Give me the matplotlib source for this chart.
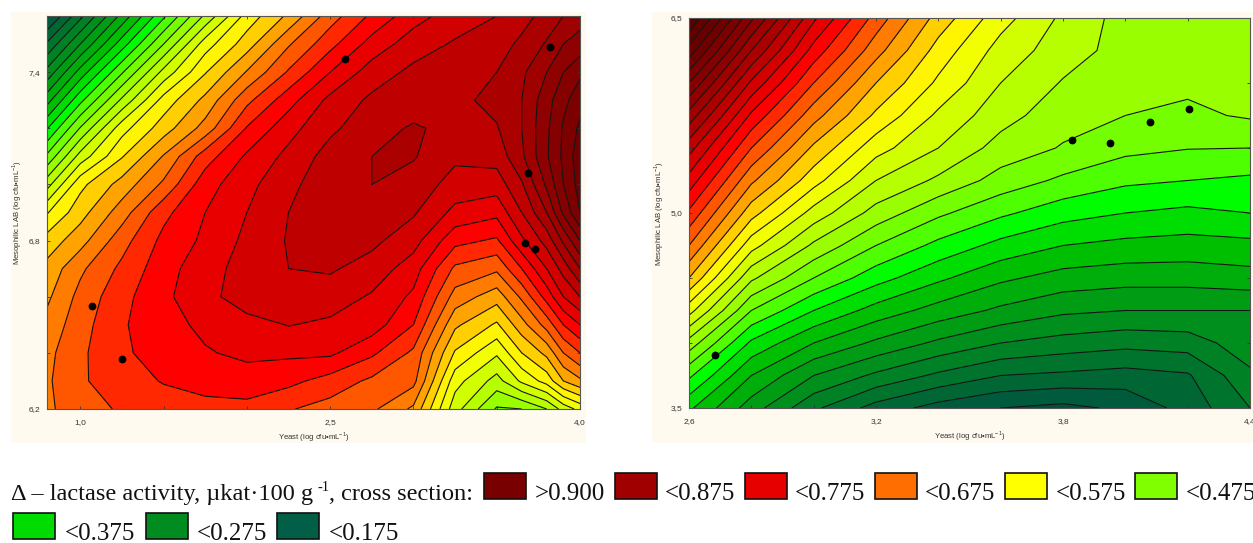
import numpy as np
import matplotlib
matplotlib.use("Agg")
import matplotlib.pyplot as plt
from matplotlib.colors import LinearSegmentedColormap
from matplotlib.patches import Rectangle
from matplotlib.ticker import MultipleLocator
from matplotlib.transforms import Bbox

W, H = 1253, 543

# left panel, rows go from the top of the plot down
x1 = [0.8, 1.0, 1.25, 1.5, 1.75, 2.0, 2.25, 2.5, 2.75, 3.0, 3.25, 3.5, 3.65, 3.8, 3.9, 4.0]
y1 = [7.6, 7.5, 7.4, 7.3, 7.2, 7.1, 7.0, 6.9, 6.8, 6.7, 6.6, 6.5, 6.4, 6.3, 6.2]
z1 = [
    [.170, .243, .333, .420, .505, .585, .630, .688, .730, .765, .787, .800, .816, .834, .850, .865],
    [.229, .300, .388, .475, .563, .613, .672, .717, .760, .788, .803, .815, .830, .853, .875, .885],
    [.283, .360, .447, .533, .598, .652, .703, .750, .787, .806, .812, .825, .845, .875, .900, .920],
    [.340, .418, .505, .585, .632, .693, .740, .782, .805, .812, .818, .833, .850, .890, .918, .940],
    [.398, .477, .565, .613, .660, .727, .766, .795, .815, .828, .818, .823, .850, .895, .928, .955],
    [.455, .535, .598, .652, .713, .754, .782, .810, .825, .827, .805, .810, .845, .897, .930, .965],
    [.515, .593, .635, .680, .740, .767, .795, .812, .825, .815, .790, .787, .822, .880, .925, .960],
    [.573, .615, .663, .718, .750, .775, .800, .810, .818, .803, .768, .757, .800, .850, .905, .950],
    [.610, .640, .690, .732, .755, .781, .802, .810, .806, .785, .733, .721, .770, .810, .855, .900],
    [.633, .670, .706, .740, .765, .785, .800, .803, .790, .762, .695, .680, .725, .775, .810, .850],
    [.645, .683, .717, .745, .766, .790, .795, .788, .772, .745, .665, .636, .680, .735, .775, .800],
    [.658, .690, .722, .742, .755, .765, .776, .770, .763, .725, .630, .596, .640, .685, .725, .750],
    [.668, .695, .722, .733, .748, .755, .755, .755, .730, .695, .597, .554, .600, .632, .675, .700],
    [.671, .697, .712, .727, .737, .740, .732, .715, .695, .683, .560, .515, .555, .585, .625, .645],
    [.670, .690, .703, .710, .715, .717, .702, .690, .680, .645, .535, .472, .475, .500, .535, .558],
]
pts1_x = [2.59, 3.82, 3.685, 3.67, 3.73, 1.07, 1.25]
pts1_y = [7.446, 7.489, 7.04, 6.79, 6.77, 6.567, 6.379]

# right panel
x2 = [2.6, 2.8, 3.0, 3.2, 3.4, 3.6, 3.8, 4.0, 4.2, 4.4]
y2 = [6.5, 6.25, 6.0, 5.75, 5.5, 5.25, 5.0, 4.75, 4.5, 4.25, 4.0, 3.75, 3.5]
z2 = [
    [1.05, .905, .780, .690, .615, .560, .520, .490, .480, .478],
    [.990, .850, .740, .660, .590, .540, .512, .490, .480, .478],
    [.925, .795, .700, .625, .570, .525, .498, .485, .480, .478],
    [.865, .745, .660, .595, .545, .510, .485, .475, .470, .478],
    [.810, .700, .620, .560, .525, .490, .473, .457, .451, .450],
    [.765, .655, .585, .525, .495, .465, .445, .430, .425, .420],
    [.720, .610, .540, .490, .455, .430, .410, .400, .394, .400],
    [.675, .560, .495, .450, .418, .392, .375, .368, .365, .368],
    [.625, .505, .450, .410, .380, .355, .340, .335, .335, .340],
    [.560, .450, .400, .365, .340, .320, .305, .300, .300, .300],
    [.490, .395, .350, .320, .295, .275, .265, .258, .262, .290],
    [.430, .350, .300, .270, .245, .225, .220, .215, .222, .270],
    [.380, .312, .255, .215, .190, .175, .168, .180, .210, .250],
]
pts2_x = [2.683, 3.829, 3.951, 4.079, 4.204]
pts2_y = [3.908, 5.562, 5.538, 5.70, 5.80]

legend_labels = [">0.900", "<0.875", "<0.775", "<0.675", "<0.575", "<0.475", "<0.375", "<0.275", "<0.175"]
legend_colors = ["#780000", "#a00000", "#e60000", "#ff6e00", "#ffff00", "#80ff00", "#00dc00", "#008c1e", "#005f46"]

levels = np.arange(0.15, 1.1, 0.025)
anchors = [
    (.150, "#004a3c"), (.185, "#005a3c"), (.285, "#008c1e"), (.3625, "#00c000"), (.4125, "#00ff00"),
    (.4375, "#50ff00"), (.4875, "#99ff00"), (.5375, "#d0ff00"), (.5625, "#f0ff00"), (.5875, "#fff800"),
    (.6125, "#ffcc00"), (.6375, "#ffa000"), (.6625, "#ff7a00"), (.6875, "#ff5500"), (.7125, "#ff2800"),
    (.7375, "#ff0000"), (.7625, "#e80000"), (.7875, "#d40000"), (.8125, "#c00000"), (.8375, "#ac0000"),
    (.8625, "#a00000"), (.8875, "#900000"), (.9125, "#860000"), (.9375, "#7c0000"), (.9625, "#700000"),
    (1.075, "#500000"),
]
lo, hi = anchors[0][0], anchors[-1][0]
cmap = LinearSegmentedColormap.from_list("lact", [((v - lo) / (hi - lo), c) for v, c in anchors])
band_colors = [cmap((0.5 * (a + b) - lo) / (hi - lo)) for a, b in zip(levels[:-1], levels[1:])]

plt.rcParams["font.family"] = ["Liberation Sans", "DejaVu Sans"]
plt.rcParams["mathtext.fontset"] = "custom"
plt.rcParams["mathtext.rm"] = "Liberation Sans"

fig = plt.figure(figsize=(W / 100, H / 100), dpi=100)


def px_axes(left, top, right, bottom):
    return fig.add_axes([left / W, 1 - bottom / H, (right - left) / W, (bottom - top) / H])


# cream backgrounds behind the two panels
for left, right in [(11, 586), (652, 1253)]:
    fig.add_artist(Rectangle((left / W, 1 - 443 / H), (right - left) / W, 431 / H,
                             transform=fig.transFigure, facecolor="#fffaf0", edgecolor="none", zorder=0))


def panel(ax, x, y, z, px, py, xlim, ylim, xt, yt, xm, ym):
    ax.contourf(x, y, z, levels=levels, colors=band_colors)
    ax.contour(x, y, z, levels=levels, colors="#151515", linewidths=0.8)
    ax.plot(px, py, "o", color="black", ms=4.6, clip_on=False)
    ax.set_xlim(xlim)
    ax.set_ylim(ylim)
    ax.set_xticks(xt)
    ax.set_yticks(yt)
    ax.set_yticklabels([("%.1f" % t).replace(".", ",") for t in yt])
    ax.set_xticklabels([("%.1f" % t).replace(".", ",") for t in xt])
    ax.xaxis.set_minor_locator(MultipleLocator(xm))
    ax.yaxis.set_minor_locator(MultipleLocator(ym))
    ax.tick_params(which="both", direction="in", top=True, right=True, length=2, width=0.6,
                   colors="#333333", labelsize=6)
    ax.tick_params(axis="x", pad=7)
    ax.tick_params(axis="y", pad=5)
    ax.set_xlabel("Yeast (log cfu•mL$^{-1}$)", fontsize=5.6, color="#333333", labelpad=3)
    ax.set_ylabel("Mesophilic LAB (log cfu•mL$^{-1}$)", fontsize=5.6, color="#333333", labelpad=3)
    for s in ax.spines.values():
        s.set_linewidth(0.8)
        s.set_color("#555555")


ax1 = px_axes(47, 16, 580, 409)
panel(ax1, x1, y1, z1, pts1_x, pts1_y, (0.8, 4.0), (6.2, 7.6),
      [1.0, 2.5, 4.0], [6.2, 6.8, 7.4], 0.5, 0.2)
ax2 = px_axes(689, 18, 1250, 408)
panel(ax2, x2, y2, z2, pts2_x, pts2_y, (2.6, 4.4), (3.5, 6.5),
      [2.6, 3.2, 3.8, 4.4], [3.5, 5.0, 6.5], 0.2, 0.5)

# last tick label of the left panel is cut by the cream background
clip = Bbox([[11, H - 443], [586, H - 12]])
for lab in ax1.get_xticklabels():
    lab.set_clip_box(clip)
    lab.set_clip_on(True)

# legend under the panels
serif = ["Liberation Serif", "DejaVu Serif"]
sw_x = [484, 615, 745, 875, 1005, 1135, 13, 146, 277]
sw_y = [473, 473, 473, 473, 473, 473, 513, 513, 513]
lab_x = [535, 665, 795, 925, 1056, 1186, 65, 197, 329]
lab_y = [500, 500, 500, 500, 500, 500, 540, 540, 540]
for sx, sy, lx, ly, c, t in zip(sw_x, sw_y, lab_x, lab_y, legend_colors, legend_labels):
    fig.add_artist(Rectangle((sx / W, 1 - (sy + 26) / H), 42 / W, 26 / H, transform=fig.transFigure,
                             facecolor=c, edgecolor="#111111", linewidth=1.2))
    fig.text(lx / W, 1 - ly / H, t, family=serif, fontsize=18, color="#111111", va="baseline")

fig.text(11 / W, 1 - 500 / H, "Δ – lactase activity, µkat·100 g", family=serif, fontsize=17.6,
         color="#111111", va="baseline")
fig.text(317 / W, 1 - 491 / H, "-1", family=serif, fontsize=10.5, color="#111111", va="baseline")
fig.text(329 / W, 1 - 500 / H, ", cross section:", family=serif, fontsize=17.6, color="#111111", va="baseline")

fig.savefig("out.png", dpi=100)
